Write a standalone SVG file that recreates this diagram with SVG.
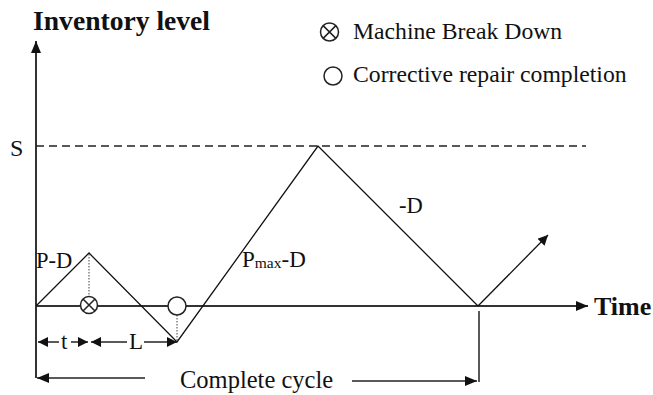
<svg xmlns="http://www.w3.org/2000/svg" width="653" height="395" viewBox="0 0 653 395">
<defs>
<marker id="ah" viewBox="0 0 10 10" refX="10" refY="5" markerWidth="10" markerHeight="10" markerUnits="userSpaceOnUse" orient="auto">
<path d="M0,0 L10,5 L0,10 z" fill="#111"/>
</marker>
<marker id="ahL" viewBox="0 0 12 10" refX="12" refY="5" markerWidth="12" markerHeight="10" markerUnits="userSpaceOnUse" orient="auto">
<path d="M0,0 L12,5 L0,10 z" fill="#111"/>
</marker>
</defs>
<style>
text{fill:#111;}
.axis{stroke:#333;stroke-width:2;fill:none;}
.ln{stroke:#111;stroke-width:1.3;fill:none;}
.dim{stroke:#222;stroke-width:1.5;fill:none;}
.dot{stroke:#444;stroke-width:1;stroke-dasharray:1.5,1.5;fill:none;}
.mk{stroke:#222;stroke-width:1.5;fill:#fff;}
</style>
<rect width="653" height="395" fill="#fff"/>
<g id="labels" font-family="'Liberation Serif', 'Times New Roman', serif">
<text x="33" y="30" font-size="27.6" font-weight="bold">Inventory level</text>
<text x="10" y="156" font-size="24">S</text>
<text x="594" y="315" font-size="26" font-weight="bold">Time</text>
<text x="36" y="268" font-size="22.5">P-D</text>
<text x="242" y="267" font-size="23">P<tspan font-size="15.5" dy="1">max</tspan><tspan dy="-1">-D</tspan></text>
<text x="399" y="213" font-size="22.5">-D</text>
<text x="61" y="349" font-size="23">t</text>
<text x="129" y="349" font-size="23">L</text>
<text x="180" y="388" font-size="24.5">Complete cycle</text>
</g>
<g id="legend" font-family="'Liberation Serif', 'Times New Roman', serif">
<circle class="mk" cx="329.5" cy="32" r="9"/>
<path class="mk" d="M323.1,25.6 L335.9,38.4 M335.9,25.6 L323.1,38.4"/>
<text x="353" y="39" font-size="23.7">Machine Break Down</text>
<circle class="mk" cx="333" cy="76" r="9"/>
<text x="353" y="82" font-size="23.7">Corrective repair completion</text>
</g>
<g id="connectors">
<line class="axis" x1="36" y1="378" x2="36" y2="41" marker-end="url(#ahL)"/>
<line class="axis" x1="36" y1="306" x2="588" y2="306" marker-end="url(#ahL)"/>
<line x1="36" y1="146" x2="586" y2="146" stroke="#222" stroke-width="1.3" stroke-dasharray="8,5"/>
<polyline class="ln" points="36,306 89,253 177,342 318,146 478,306"/>
<line class="ln" x1="478" y1="306" x2="548" y2="235" marker-end="url(#ah)"/>
<line class="dot" x1="89" y1="254" x2="89" y2="297"/>
<line class="dot" x1="177" y1="315" x2="177" y2="341"/>
<line class="dim" x1="59" y1="342" x2="38" y2="342" marker-end="url(#ah)"/>
<line class="dim" x1="71" y1="342" x2="88" y2="342" marker-end="url(#ah)"/>
<line class="dim" x1="127" y1="342" x2="91" y2="342" marker-end="url(#ah)"/>
<line class="dim" x1="144" y1="342" x2="177" y2="342" marker-end="url(#ah)"/>
<line class="dim" x1="145" y1="378" x2="37" y2="378" marker-end="url(#ahL)"/>
<line class="dim" x1="352" y1="381" x2="477" y2="381" marker-end="url(#ahL)"/>
<line class="dim" x1="479" y1="311" x2="479" y2="382"/>
</g>
<g id="events">
<circle class="mk" cx="89" cy="305" r="8.5"/>
<path class="mk" d="M83,299 L95,311 M95,299 L83,311"/>
<circle class="mk" cx="177" cy="306" r="9"/>
</g>
</svg>
